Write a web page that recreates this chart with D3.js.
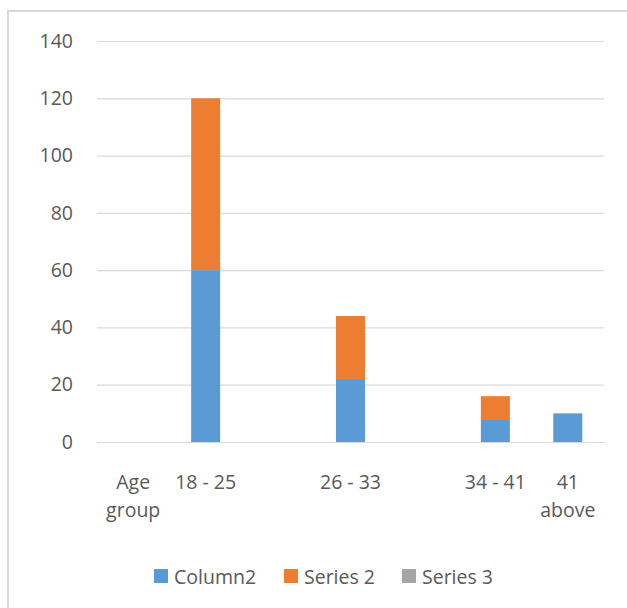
<!DOCTYPE html>
<html>
<head>
<meta charset="utf-8">
<script src="https://cdn.jsdelivr.net/npm/d3@7"></script>
<style>
  html, body { margin: 0; padding: 0; background: #fff; }
  svg text { font-family: "Open Sans", "Noto Sans", sans-serif; fill: #595959; }
</style>
</head>
<body>
<svg id="chart" width="627" height="608"></svg>
<script>
// Categories along the x axis (two empty slots sit between the age groups)
const categories = ["Age group", "18 - 25", "", "26 - 33", "", "34 - 41", "41 above"];
const seriesNames = ["Column2", "Series 2", "Series 3"];
const column2 = [0, 60, 0, 22, 0, 8, 10];
const series2 = [0, 60, 0, 22, 0, 8, 0];
const series3 = [0, 0, 0, 0, 0, 0, 0];
const yTicks = [0, 20, 40, 60, 80, 100, 120, 140];
const colors = ["#5B9BD5", "#ED7D31", "#A5A5A5"];

const svg = d3.select("#chart");
const margin = { left: 97, right: 23, top: 41, bottom: 166 };
const W = 627, H = 608;
const plotW = W - margin.left - margin.right;
const plotH = H - margin.top - margin.bottom;

// Chart area frame
svg.append("rect")
  .attr("x", 8).attr("y", 11)
  .attr("width", 640).attr("height", 620)
  .attr("fill", "#fff")
  .attr("stroke", "#d9d9d9").attr("stroke-width", 2);

const g = svg.append("g").attr("transform", `translate(${margin.left},${margin.top})`);

const x = d3.scaleBand()
  .domain(d3.range(categories.length))
  .range([0, plotW])
  .paddingInner(0.6)
  .paddingOuter(0.3);

const y = d3.scaleLinear().domain([0, 140]).range([plotH, 0]);

// Horizontal gridlines
const grid = g.append("g")
  .call(d3.axisLeft(y).tickValues(yTicks).tickSize(-plotW).tickFormat(""));
grid.select(".domain").remove();
grid.selectAll("line").attr("stroke", "#d9d9d9").attr("stroke-width", 1.2);

// Y axis labels
const yAxis = g.append("g")
  .call(d3.axisLeft(y).tickValues(yTicks).tickSize(0).tickPadding(24));
yAxis.select(".domain").remove();
yAxis.selectAll("text")
  .style("font-size", "19.5px")
  .attr("fill", "#595959");

// Stacked bars
const rows = categories.map((c, i) => ({ i, s0: column2[i], s1: series2[i], s2: series3[i] }));
const stack = d3.stack().keys(["s0", "s1", "s2"]);
const layers = stack(rows);

g.selectAll(".layer")
  .data(layers)
  .join("g")
  .attr("class", "layer")
  .attr("fill", (d, k) => colors[k])
  .selectAll("rect")
  .data(d => d.filter(p => p[1] - p[0] > 0))
  .join("rect")
  .attr("x", p => x(p.data.i))
  .attr("width", x.bandwidth())
  .attr("y", p => y(p[1]))
  .attr("height", p => y(p[0]) - y(p[1]));

// X axis labels, wrapped to the category width
const xAxis = g.append("g")
  .attr("transform", `translate(0,${plotH})`)
  .call(d3.axisBottom(x).tickSize(0).tickFormat(i => categories[i]));
xAxis.select(".domain").remove();
xAxis.selectAll("text")
  .style("font-size", "19.5px")
  .attr("fill", "#595959")
  .each(function () {
    const t = d3.select(this);
    const words = t.text().split(/\s+/).filter(w => w.length);
    const maxW = x.step();
    t.text(null).attr("y", 47).attr("dy", 0);
    let lines = [];
    let line = [];
    const probe = t.append("tspan");
    words.forEach(w => {
      line.push(w);
      probe.text(line.join(" "));
      if (probe.node().getComputedTextLength() > maxW && line.length > 1) {
        line.pop();
        lines.push(line.join(" "));
        line = [w];
      }
    });
    if (line.length) lines.push(line.join(" "));
    probe.remove();
    lines.forEach((l, k) => {
      t.append("tspan").attr("x", 0).attr("y", 47 + k * 28).text(l);
    });
  });

// Legend
const legendX = [154, 284, 402];
const legend = svg.append("g");
seriesNames.forEach((name, k) => {
  legend.append("rect")
    .attr("x", legendX[k]).attr("y", 569)
    .attr("width", 14).attr("height", 14)
    .attr("fill", colors[k]);
  legend.append("text")
    .attr("x", legendX[k] + 20).attr("y", 584)
    .style("font-size", "19.5px")
    .text(name);
});
</script>
</body>
</html>
